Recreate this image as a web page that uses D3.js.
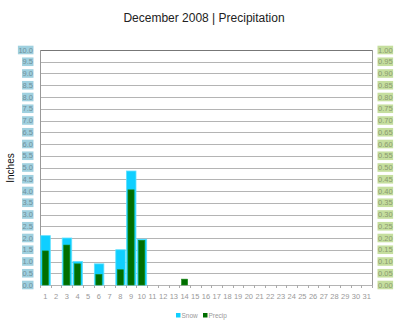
<!DOCTYPE html>
<html>
<head>
<meta charset="utf-8">
<script src="https://cdn.jsdelivr.net/npm/d3@7"></script>
<style>
  body { margin: 0; background: #fff; }
  svg { font-family: Arial, "Liberation Sans", sans-serif; }
</style>
</head>
<body>
<div id="chart"></div>
<script>
var days = d3.range(1, 32)
var snow =   [2.1, 0, 2.0, 1.0, 0, 0.9, 0, 1.5, 4.85, 1.95, 0, 0, 0, 0, 0, 0, 0, 0, 0, 0, 0, 0, 0, 0, 0, 0, 0, 0, 0, 0, 0]
var precip = [0.145, 0, 0.17, 0.09, 0, 0.045, 0, 0.065, 0.405, 0.19, 0, 0, 0, 0.025, 0, 0, 0, 0, 0, 0, 0, 0, 0, 0, 0, 0, 0, 0, 0, 0, 0]
var leftTicks = d3.range(0, 10.01, 0.5)
var rightTicks = d3.range(0, 1.001, 0.05)

var margin = { top: 50, left: 40, right: 28, bottom: 45 },
    width = 400 - margin.left - margin.right,
    height = 330 - margin.top - margin.bottom

var svg = d3.select("#chart")
    .append("svg")
    .attr("width", 400)
    .attr("height", 330)

var container = svg.append("g")
    .attr("transform", "translate(" + margin.left + "," + margin.top + ")")

var xScale = d3.scaleBand()
    .domain(days)
    .range([0, width])

var yLeft = d3.scaleLinear().domain([0, 10]).range([height, 0])
var yRight = d3.scaleLinear().domain([0, 1]).range([height, 0])

// gridlines
container.selectAll(".grid")
    .data(leftTicks)
    .enter().append("line")
    .attr("x1", 0)
    .attr("x2", width)
    .attr("y1", function(d) { return Math.round(yLeft(d)) + 0.5 })
    .attr("y2", function(d) { return Math.round(yLeft(d)) + 0.5 })
    .attr("stroke", function(d) { return d == 10 ? "#777" : "#b4b4b4" })

// left and right axis lines
container.append("line")
    .attr("x1", 0.5).attr("x2", 0.5).attr("y1", 0).attr("y2", height + 0.5)
    .attr("stroke", "#999")
container.append("line")
    .attr("x1", width + 0.5).attr("x2", width + 0.5).attr("y1", 0).attr("y2", height + 0.5)
    .attr("stroke", "#999")

// x ticks at band edges
container.selectAll(".xtick")
    .data(days.concat([32]))
    .enter().append("line")
    .attr("x1", function(d) { return Math.round(d == 32 ? width : xScale(d)) + 0.5 })
    .attr("x2", function(d) { return Math.round(d == 32 ? width : xScale(d)) + 0.5 })
    .attr("y1", height)
    .attr("y2", height + 3)
    .attr("stroke", "#aaa")

// snow bars
container.selectAll(".snow")
    .data(days)
    .enter().append("rect")
    .filter(function(d, i) { return snow[i] > 0 })
    .attr("x", function(d) { return xScale(d) + 0.8 })
    .attr("y", function(d) { return yLeft(snow[d - 1]) })
    .attr("width", xScale.bandwidth() - 1.2)
    .attr("height", function(d) { return height - yLeft(snow[d - 1]) })
    .attr("fill", "#0fcfff")
    .attr("stroke", "#5fe0ff")
    .attr("stroke-width", 0.8)

// precip bars
container.selectAll(".precip")
    .data(days)
    .enter().append("rect")
    .filter(function(d, i) { return precip[i] > 0 })
    .attr("x", function(d) { return xScale(d) + 2.3 })
    .attr("y", function(d) { return yRight(precip[d - 1]) })
    .attr("width", xScale.bandwidth() - 4.6)
    .attr("height", function(d) { return height - yRight(precip[d - 1]) })
    .attr("fill", "#006e00")
    .attr("stroke", "#1a8a1a")
    .attr("stroke-width", 0.6)

// x labels
container.selectAll(".xlab")
    .data(days)
    .enter().append("text")
    .text(function(d) { return d })
    .attr("x", function(d) { return xScale(d) + xScale.bandwidth() / 2 })
    .attr("y", height + 14)
    .attr("text-anchor", "middle")
    .attr("font-size", "7.5px")
    .attr("fill", "#999")

// left labels with boxes
var leftLab = container.selectAll(".llab")
    .data(leftTicks)
    .enter().append("g")
    .attr("transform", function(d) { return "translate(-7," + yLeft(d) + ")" })
leftLab.append("text")
    .text(function(d) { return d.toFixed(1) })
    .attr("text-anchor", "end")
    .attr("dy", "0.35em")
    .attr("font-size", "7.5px")
    .attr("fill", "#6f8f9a")
leftLab.each(function() {
  var g = d3.select(this)
  var b = g.select("text").node().getBBox()
  g.insert("rect", "text")
    .attr("x", b.x - 0.5).attr("y", -4.3)
    .attr("width", b.width + 1).attr("height", 8.6)
    .attr("fill", "#9fd0df")
})

// right labels with boxes
var rightLab = container.selectAll(".rlab")
    .data(rightTicks)
    .enter().append("g")
    .attr("transform", function(d) { return "translate(" + (width + 6) + "," + yRight(d) + ")" })
rightLab.append("text")
    .text(function(d) { return d.toFixed(2) })
    .attr("text-anchor", "start")
    .attr("dy", "0.35em")
    .attr("font-size", "7.5px")
    .attr("fill", "#8a9a70")
rightLab.each(function() {
  var g = d3.select(this)
  var b = g.select("text").node().getBBox()
  g.insert("rect", "text")
    .attr("x", b.x - 0.5).attr("y", -4.3)
    .attr("width", b.width + 1).attr("height", 8.6)
    .attr("fill", "#c5de9e")
})

// title
svg.append("text")
    .text("December 2008 | Precipitation")
    .attr("x", 204)
    .attr("y", 22)
    .attr("text-anchor", "middle")
    .attr("font-size", "12px")
    .attr("fill", "#222")

// y axis title
svg.append("text")
    .text("Inches")
    .attr("transform", "translate(14,168) rotate(-90)")
    .attr("text-anchor", "middle")
    .attr("font-size", "10px")
    .attr("fill", "#111")

// legend
var legend = svg.append("g").attr("transform", "translate(176,316)")
var items = [{ name: "Snow", color: "#0fcfff" }, { name: "Precip", color: "#006e00" }]
items.forEach(function(it, i) {
  var x = i * 27
  legend.append("rect")
    .attr("x", x).attr("y", -3)
    .attr("width", 4.5).attr("height", 4.5)
    .attr("fill", it.color)
  legend.append("text")
    .text(it.name)
    .attr("x", x + 5.5)
    .attr("y", 1.8)
    .attr("font-size", "6.5px")
    .attr("fill", "#999")
})
</script>
</body>
</html>
